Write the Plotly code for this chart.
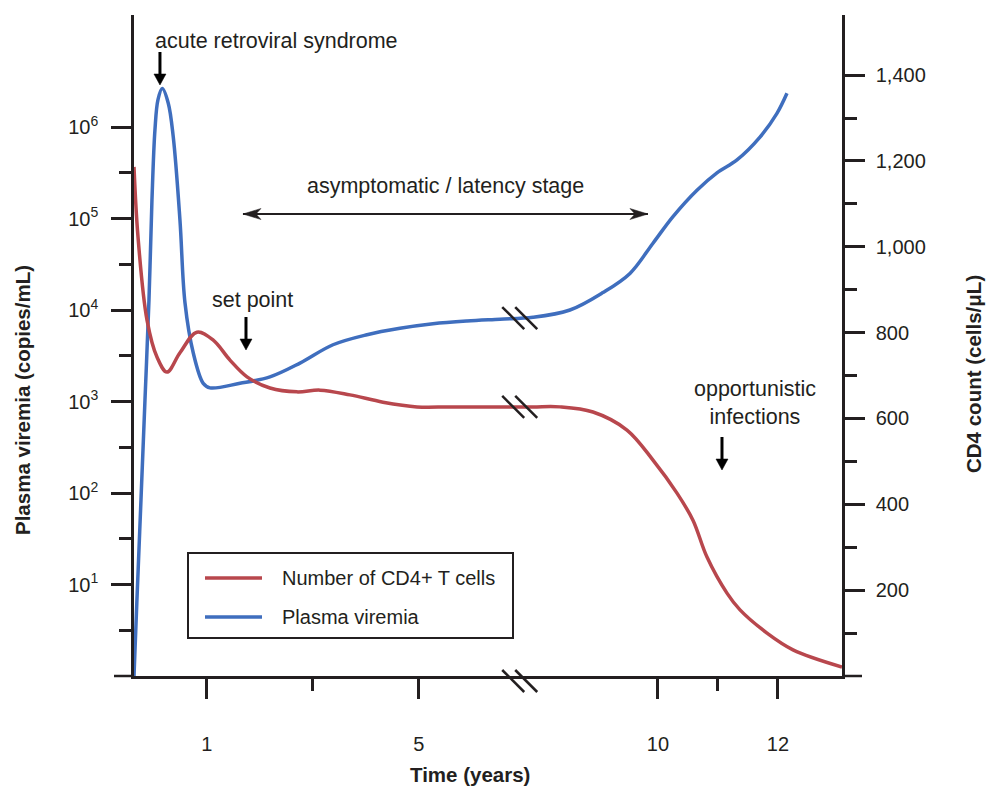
import math
import plotly.graph_objects as go

# ---------------- data (time in years; x axis is broken between ~6.9 and ~7.7 y) -------------
viremia_time = [0, 0.041, 0.096, 0.151, 0.206, 0.247, 0.288, 0.330, 0.389, 0.471, 0.540, 0.632,
                0.701, 0.815, 0.952, 1.061, 1.627, 2.192, 2.758, 3.380, 4.021, 4.643, 5.265,
                5.906, 6.528, 7.917, 8.533, 9.083, 9.533, 9.917, 10.25, 10.65, 10.983,
                11.317, 11.70, 11.983, 12.15]
viremia_copies = [1, 7, 84, 1040, 12900, 159000, 930000, 1990000, 2630000, 1820000, 776000,
                  95500, 12000, 3390, 1580, 1410, 1580, 1860, 2630, 4170, 5370, 6310, 7080,
                  7590, 7940, 8320, 10000, 15500, 25100, 53700, 105000, 204000, 316000,
                  437000, 776000, 1410000, 2340000]

cd4_time = [0, 0.055, 0.179, 0.316, 0.453, 0.632, 0.865, 1.118, 1.438, 1.759, 2.192, 2.701,
            3.135, 3.700, 4.322, 4.963, 5.585, 6.528, 7.917, 8.367, 8.917, 9.483, 9.917,
            10.317, 10.583, 10.817, 11.15, 11.367, 11.817, 12.25, 13.067]
cd4_count = [1186, 1023, 829, 743, 708, 753, 801, 783, 736, 697, 671, 662, 666, 655, 638, 627,
             627, 627, 627, 627, 615, 573, 503, 426, 363, 277, 193, 154, 100, 61, 21]

x_major_ticks = [1, 5, 10, 12]
x_minor_ticks = [3, 11]
left_major_exp = [1, 2, 3, 4, 5, 6]
left_minor_exp = [0.5, 1.5, 2.5, 3.5, 4.5, 5.5]
right_major_ticks = [200, 400, 600, 800, 1000, 1200, 1400]
right_minor_ticks = [100, 300, 500, 700, 900, 1100, 1300]

BREAK_BEFORE, BREAK_AFTER = 6.9, 7.7


def pos(t):
    """Broken time axis: first year stretched, gap between BREAK_BEFORE and BREAK_AFTER."""
    p0 = -0.371
    if t <= 1:
        return p0 + t * (1 - p0)
    if t <= BREAK_BEFORE:
        return t
    return 9.506 + (t - 10) * 60 / 53.05


INK = '#231f20'
RED = '#b8474d'
BLUE = '#3f6ebe'
FONT = 'Liberation Sans, Arial, Helvetica, sans-serif'
ANN_SIZE = 21.5
TITLE_SIZE = 20.5

fig = go.Figure()
fig.add_trace(go.Scatter(
    x=[pos(t) for t in cd4_time], y=cd4_count, yaxis='y2', mode='lines',
    name='Number of CD4+ T cells', showlegend=False,
    line=dict(color=RED, width=3.5, shape='spline', smoothing=1.0)))
fig.add_trace(go.Scatter(
    x=[pos(t) for t in viremia_time], y=viremia_copies, mode='lines',
    name='Plasma viremia', showlegend=False,
    line=dict(color=BLUE, width=3.5, shape='spline', smoothing=1.0)))

YMAX_LOG = 7.224
Y2MAX = 1540
XMIN, XMAX = pos(0), 12.975


def paper_y(px):
    return (676 - px) / 661


def paper_x(px):
    return (px - 134) / 708


axis_common = dict(showline=True, linecolor=INK, linewidth=2.5, ticks='outside',
                   tickcolor=INK, tickwidth=2.5, ticklen=20, showgrid=False,
                   zeroline=False, tickfont=dict(size=20, color=INK, family=FONT))
minor_common = dict(tickmode='array', ticks='outside', ticklen=12, tickwidth=2.5,
                    tickcolor=INK)

# page has an 8px body margin: shrink the figure so the plot area lands on the reference
fig.update_layout(
    width=987, height=780,
    margin=dict(l=126, r=153, t=7, b=112),
    paper_bgcolor='white', plot_bgcolor='white',
    font=dict(family=FONT, size=20, color=INK),
    showlegend=False,
    xaxis=dict(range=[XMIN, XMAX], tickmode='array',
               tickvals=[pos(t) for t in x_major_ticks],
               ticktext=[str(t) for t in x_major_ticks],
               minor=dict(tickvals=[pos(t) for t in x_minor_ticks], **minor_common),
               ticklabelstandoff=28, **axis_common),
    yaxis=dict(type='log', range=[0, YMAX_LOG], tickmode='array',
               tickvals=[10 ** e for e in left_major_exp],
               ticktext=['10<sup>%d</sup>' % e for e in left_major_exp],
               minor=dict(tickvals=[10 ** e for e in left_minor_exp], **minor_common),
               ticklabelstandoff=9, **axis_common),
    yaxis2=dict(overlaying='y', side='right', range=[0, Y2MAX], tickmode='array',
                tickvals=right_major_ticks,
                ticktext=[f'{v:,}' for v in right_major_ticks],
                minor=dict(tickvals=right_minor_ticks, **minor_common),
                ticklabelstandoff=7, **axis_common),
)

shapes = []
# major ticks at the origin of both y axes (extend the bottom axis line)
shapes.append(dict(type='line', xref='paper', yref='paper', xsizemode='pixel', xanchor=0,
                   x0=-20, x1=0, y0=0, y1=0, line=dict(color=INK, width=2.5)))
shapes.append(dict(type='line', xref='paper', yref='paper', xsizemode='pixel', xanchor=1,
                   x0=0, x1=20, y0=0, y1=0, line=dict(color=INK, width=2.5)))


# break marks ("\\") on the bottom axis and on both curves at the axis break
def interp(ts, vs, t):
    for i in range(len(ts) - 1):
        if ts[i] <= t <= ts[i + 1]:
            f = (t - ts[i]) / (ts[i + 1] - ts[i])
            return vs[i] + f * (vs[i + 1] - vs[i])
    return vs[-1]


bx = pos(BREAK_BEFORE)
blue_break = math.log10(interp([pos(t) for t in viremia_time], viremia_copies, bx)) / YMAX_LOG
red_break = interp([pos(t) for t in cd4_time], cd4_count, bx) / Y2MAX
for yc in [paper_y(681), blue_break, red_break]:
    for dx in (-6.5, 6.5):
        shapes.append(dict(type='line', xref='x', yref='paper', xsizemode='pixel',
                           ysizemode='pixel', xanchor=bx, yanchor=yc, x0=dx - 11, x1=dx + 11,
                           y0=11, y1=-11, line=dict(color=INK, width=2.5)))

# short downward arrows (acute retroviral syndrome, set point, opportunistic infections)
for t, tip_px in [(0.357, 85), (1.74, 350), (11.067, 470)]:
    shapes.append(dict(type='line', xref='x', yref='paper', x0=pos(t), x1=pos(t),
                       y0=paper_y(tip_px - 33), y1=paper_y(tip_px - 8),
                       line=dict(color='black', width=3)))
    shapes.append(dict(type='path', xref='x', yref='paper', xsizemode='pixel',
                       ysizemode='pixel', xanchor=pos(t), yanchor=paper_y(tip_px),
                       path='M-6,11 L6,11 L0,0 Z', fillcolor='black',
                       line=dict(color='black', width=0.5)))

# double-headed arrow of the latency stage
lat_start, lat_end, lat_y = 1.683, 9.833, paper_y(214)
shapes.append(dict(type='line', xref='x', yref='paper', x0=pos(lat_start), x1=pos(lat_end),
                   y0=lat_y, y1=lat_y, line=dict(color=INK, width=1.8)))
shapes.append(dict(type='path', xref='x', yref='paper', xsizemode='pixel', ysizemode='pixel',
                   xanchor=pos(lat_end), yanchor=lat_y,
                   path='M0,0 L-18,5.5 L-13,0 L-18,-5.5 Z', fillcolor=INK,
                   line=dict(color=INK, width=0.5)))
shapes.append(dict(type='path', xref='x', yref='paper', xsizemode='pixel', ysizemode='pixel',
                   xanchor=pos(lat_start), yanchor=lat_y,
                   path='M0,0 L18,5.5 L13,0 L18,-5.5 Z', fillcolor=INK,
                   line=dict(color=INK, width=0.5)))

# legend box
legend_items = [('Number of CD4+ T cells', RED, 578), ('Plasma viremia', BLUE, 617)]
shapes.append(dict(type='rect', xref='paper', yref='paper', x0=paper_x(188), x1=paper_x(513),
                   y0=paper_y(638), y1=paper_y(553), line=dict(color=INK, width=2),
                   fillcolor='white', layer='above'))
for name, col, ypx in legend_items:
    shapes.append(dict(type='line', xref='paper', yref='paper', x0=paper_x(205),
                       x1=paper_x(262), y0=paper_y(ypx), y1=paper_y(ypx),
                       line=dict(color=col, width=3.5)))

fig.update_layout(shapes=shapes)

ann = []


def text(t, xpx, ypx, size=ANN_SIZE, angle=0, xanchor='center'):
    ann.append(dict(text=t, x=paper_x(xpx), y=paper_y(ypx), xref='paper', yref='paper',
                    xanchor=xanchor, yanchor='middle', textangle=angle, showarrow=False,
                    font=dict(size=size, color=INK, family=FONT)))


# axis titles
text('<b>Plasma viremia (copies/mL)</b>', 23, 400, TITLE_SIZE, -90)
text('<b>CD4 count (cells/μL)</b>', 973, 374, TITLE_SIZE, -90)
text('<b>Time (years)</b>', 470, 775, TITLE_SIZE)
# stage labels
text('acute retroviral syndrome', 276, 41)
text('asymptomatic / latency stage', 445.5, 186)
text('set point', 252, 300)
text('opportunistic<br>infections', 755, 403)
# legend labels
for name, col, ypx in legend_items:
    text(name, 280, ypx, 20, xanchor='left')

fig.update_layout(annotations=ann)

fig.write_html('out.html')
